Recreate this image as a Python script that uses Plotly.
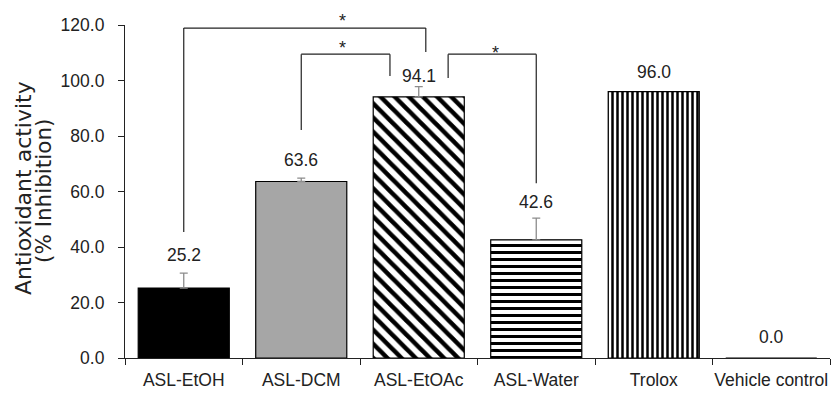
import plotly.graph_objects as go

# ---- data ----
categories = ["ASL-EtOH", "ASL-DCM", "ASL-EtOAc", "ASL-Water", "Trolox", "Vehicle control"]
values = [25.2, 63.6, 94.1, 42.6, 96.0, 0.0]
errors = [5.4, 1.2, 3.7, 7.8, 0.0, 0.0]
value_labels = ["25.2", "63.6", "94.1", "42.6", "96.0", "0.0"]
y_ticks = [0, 20, 40, 60, 80, 100, 120]
y_range = [0, 120]

# significance brackets (category index positions, heights in % inhibition)
bracket_left_x = [0.0, 1.0, 2.25]
bracket_right_x = [2.06, 1.755, 3.0]
bracket_top_y = [118.9, 109.5, 109.5]
bracket_left_bottom = [45.4, 82.2, 100.9]
bracket_right_bottom = [110.3, 101.6, 63.0]
star_x = [1.355, 1.355, 2.657]
star_y = [123.5, 113.9, 112.0]

# ---- style ----
fill_colors = ["#000000", "#a6a6a6", "#ffffff", "#ffffff", "#ffffff", "#ffffff"]
pattern_shapes = ["", "", "\\", "-", "|", ""]
pattern_sizes = [8, 8, 10, 7, 5, 8]
pattern_solid = [0.3, 0.3, 0.45, 0.43, 0.5, 0.3]
label_shift = [18, 18, 11, 16, 20, 21]

FONT = "Liberation Sans, Arial, sans-serif"
TXT = "#222222"

W, H = 832, 394
PL, PR, PT, PB = 125, 830, 25, 358   # plot area in window pixels

fig = go.Figure()
for i, cat in enumerate(categories):
    marker = dict(color=fill_colors[i], line=dict(color="#000000", width=1.2))
    if pattern_shapes[i]:
        marker["pattern"] = dict(shape=pattern_shapes[i], size=pattern_sizes[i],
                                 solidity=pattern_solid[i], fgcolor="#000000", fgopacity=1,
                                 bgcolor="#ffffff", fillmode="overlay")
    fig.add_trace(go.Bar(
        x=[cat], y=[values[i]], width=0.775, marker=marker,
        error_y=dict(type="data", array=[errors[i]], arrayminus=[0], symmetric=False,
                     color="#8c8c8c", thickness=1.3, width=4, visible=errors[i] > 0),
        showlegend=False,
    ))

annotations = []
for i, cat in enumerate(categories):
    annotations.append(dict(
        x=cat, y=values[i] + errors[i], xref="x", yref="y",
        text=value_labels[i], showarrow=False, yanchor="middle", yshift=label_shift[i],
        font=dict(family=FONT, size=17.5, color=TXT),
    ))

shapes = []
for i in range(len(bracket_left_x)):
    lc = dict(color="#222222", width=1.2)
    shapes.append(dict(type="line", xref="x", yref="y", x0=bracket_left_x[i], x1=bracket_left_x[i],
                       y0=bracket_left_bottom[i], y1=bracket_top_y[i], line=lc))
    shapes.append(dict(type="line", xref="x", yref="y", x0=bracket_left_x[i], x1=bracket_right_x[i],
                       y0=bracket_top_y[i], y1=bracket_top_y[i], line=lc))
    shapes.append(dict(type="line", xref="x", yref="y", x0=bracket_right_x[i], x1=bracket_right_x[i],
                       y0=bracket_top_y[i], y1=bracket_right_bottom[i], line=lc))
    # box top placed at the glyph centre, then lifted so the asterisk sits there
    annotations.append(dict(
        x=star_x[i], y=(star_y[i] - y_range[0]) / (y_range[1] - y_range[0]),
        xref="x", yref="paper", text="*", showarrow=False,
        yanchor="top", yshift=6, font=dict(family=FONT, size=18, color=TXT),
    ))

pw, ph = PR - PL, PB - PT
# y-axis title (two lines)
annotations.append(dict(x=(23 - PL) / pw, y=(PB - 188) / ph, xref="paper", yref="paper",
                        text="Antioxidant activity", textangle=-90, showarrow=False,
                        xanchor="center", yanchor="middle",
                        font=dict(family="DejaVu Sans", size=22, color=TXT)))
annotations.append(dict(x=(43 - PL) / pw, y=(PB - 191) / ph, xref="paper", yref="paper",
                        text="(% Inhibition)", textangle=-90, showarrow=False,
                        xanchor="center", yanchor="middle",
                        font=dict(family="DejaVu Sans", size=21.5, color=TXT)))

fig.update_layout(
    width=W, height=H,
    margin=dict(l=PL, r=W - PR, t=PT, b=H - PB),
    plot_bgcolor="#ffffff", paper_bgcolor="#ffffff",
    shapes=shapes, annotations=annotations,
    barmode="overlay",
)
fig.update_xaxes(
    type="category", range=[-0.5, 5.5], tickson="boundaries", ticks="outside", ticklen=6,
    tickcolor="#222222", showline=True, linecolor="#222222", linewidth=1.2, showgrid=False,
    tickfont=dict(family=FONT, size=17.5, color=TXT), tickangle=0, automargin=False,
    ticklabelstandoff=6,
)
fig.update_yaxes(
    range=y_range, tickvals=y_ticks, tickformat=".1f", ticks="outside", ticklen=6,
    tickcolor="#222222", showline=True, linecolor="#222222", linewidth=1.2, showgrid=False,
    zeroline=False, tickfont=dict(family=FONT, size=17.5, color=TXT), automargin=False,
    ticklabelstandoff=10,
)

# remove the default page margin so the 832x394 figure fills the window exactly
fig.write_html("out.html", config={"displayModeBar": False},
               post_script="document.body.style.margin='0';document.body.style.overflow='hidden';")
